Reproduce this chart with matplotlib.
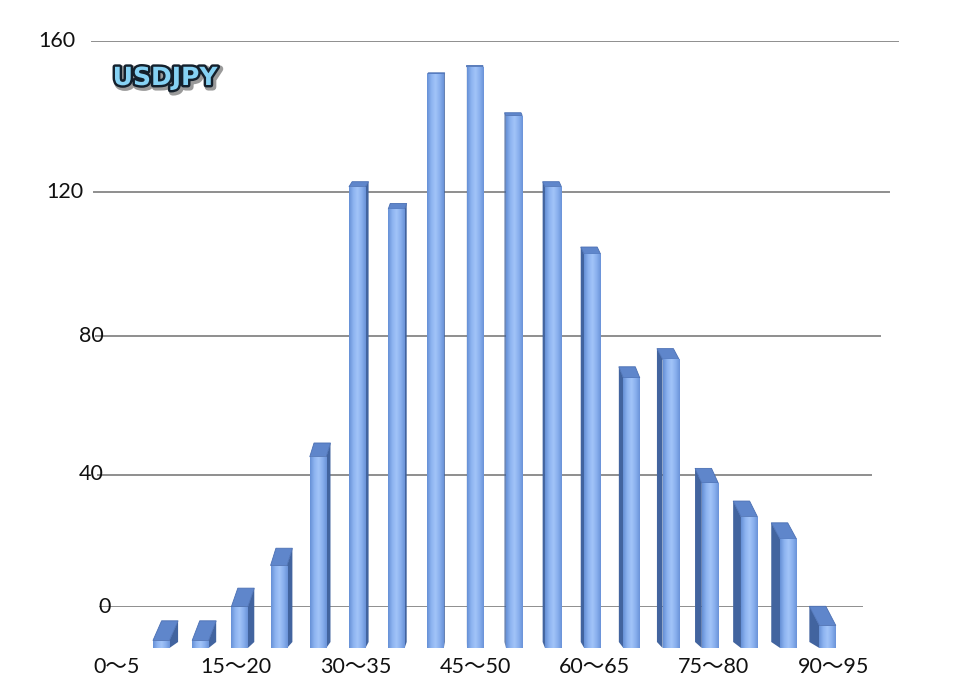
import numpy as np
import matplotlib
matplotlib.use("Agg")
import matplotlib.pyplot as plt
import matplotlib.patheffects as pe
from matplotlib.patches import Polygon, Rectangle
from matplotlib.colors import LinearSegmentedColormap

# bins of 5 and their counts
bins = ["0～5", "5～10", "10～15", "15～20", "20～25", "25～30", "30～35",
        "35～40", "40～45", "45～50", "50～55", "55～60", "60～65", "65～70",
        "70～75", "75～80", "80～85", "85～90", "90～95"]
counts = [0, 2, 2, 11, 22, 51, 123, 117, 153, 155, 142, 123, 105, 72, 77,
          44, 35, 29, 6]
yticks = [0, 40, 80, 120, 160]
title = "USDJPY"

FONT = ["Lato", "Noto Sans CJK JP", "DejaVu Sans"]
W, H = 954, 689

# perspective of the back wall: spacing grows toward the top
A, B = 3.2375, 0.001875


def fwd(v):
    v = np.asarray(v, dtype=float)
    return A * v + B * v * v


def inv(y):
    y = np.asarray(y, dtype=float)
    return (-A + np.sqrt(np.clip(A * A + 4 * B * y, 0, None))) / (2 * B)


fig = plt.figure(figsize=(W / 100, H / 100), dpi=100)
fig.patch.set_facecolor("white")

# back wall with gridlines
wall = fig.add_axes([0, (H - 607) / H, 1, 566 / H])
wall.set_yscale("function", functions=(fwd, inv))
wall.set_xlim(0, 1)
wall.set_ylim(0, 160)
wall.axis("off")

lab_right = {0: 111, 40: 104, 80: 104, 120: 83, 160: 75}
for v in yticks:
    x0 = (100 - 8 * v / 160) / W
    x1 = (862 + 36 * v / 160) / W
    wall.axhline(v, xmin=x0, xmax=x1, color="#8e8e8e", lw=1.4, zorder=1)
    wall.text(lab_right[v] / W, v, str(v), ha="right", va="center",
              fontsize=15.5, family=FONT, color="#111111")

# front plane with the columns
px_x, px_y = 39.2, 3.75
ax = fig.add_axes([(122 - 0.5 * px_x) / W, (H - 648) / H,
                   19 * px_x / W, 160 * px_y / H])
ax.set_xlim(-0.5, 18.5)
ax.set_ylim(0, 160)
ax.axis("off")

cmap = LinearSegmentedColormap.from_list(
    "col", ["#6690d6", "#8cb3f0", "#a2c4f8", "#8ab0ee", "#6a93d8"])
grad = np.linspace(0, 1, 64).reshape(1, -1)

bw = 0.42
for i, v in enumerate(counts):
    if v <= 0:
        continue
    xl, xr = i - bw / 2, i + bw / 2
    xc_px = 122 + px_x * i
    top_px = 648 - px_y * v
    ddx = -(xc_px - 470) * 0.028 / px_x
    ddy = 20 * (top_px - 30) / 620 / px_y
    ddy0 = 6 / px_y
    # side face
    xs = xr if ddx > 0 else xl
    side = Polygon([(xs, 0), (xs, v), (xs + ddx, v + ddy), (xs + ddx, ddy0)],
                   closed=True, fc="#42649f", ec="none", zorder=2,
                   clip_on=False)
    ax.add_patch(side)
    # top face
    topf = Polygon([(xl, v), (xr, v), (xr + ddx, v + ddy), (xl + ddx, v + ddy)],
                   closed=True, fc="#5f86cb", ec="#4a6fb3", lw=0.6, zorder=3,
                   clip_on=False)
    ax.add_patch(topf)
    # front face with gradient
    rect = Rectangle((xl, 0), bw, v, fc="none", ec="none")
    ax.add_patch(rect)
    im = ax.imshow(grad, cmap=cmap, extent=[xl, xr, 0, v], aspect="auto",
                   zorder=4, interpolation="bilinear")
    im.set_clip_path(rect)

ax.set_xlim(-0.5, 18.5)
ax.set_ylim(0, 160)

for i in range(0, len(bins), 3):
    ax.text(i * 1.015 - 0.13, -5.1, bins[i], ha="center", va="center",
            fontsize=15.5, family=FONT, color="#111111", clip_on=False)

fig.text(165 / W, 1 - 78 / H, title, ha="center", va="center",
         fontsize=18, fontweight="bold", family="DejaVu Sans",
         color="#86d2f4",
         path_effects=[pe.Stroke(linewidth=5, foreground="#9a9a9a",
                                 offset=(1.5, -1.5)),
                       pe.Stroke(linewidth=3.5, foreground="#14202c"),
                       pe.Normal()])

fig.savefig("out.png", dpi=100, facecolor="white")
